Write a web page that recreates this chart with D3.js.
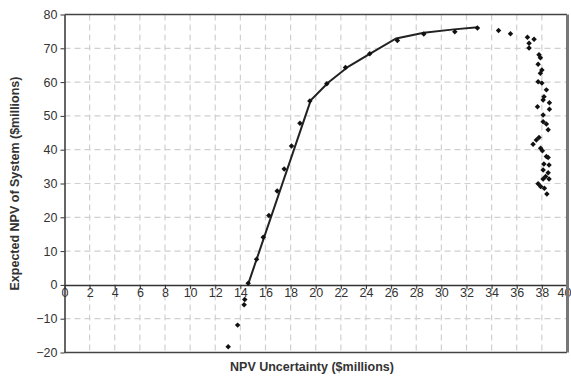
<!DOCTYPE html>
<html>
<head>
<meta charset="utf-8">
<script src="https://cdn.jsdelivr.net/npm/d3@7"></script>
<style>
  body { margin: 0; background: #fff; }
  svg { display: block; font-family: "Liberation Sans", Arial, sans-serif; }
</style>
</head>
<body>
<div id="chart"></div>
<script>
// fitted frontier curve
const curveX = [14.6, 19.6, 21.0, 22.6, 24.4, 26.4, 28.6, 31.0, 32.9];
const curveY = [0.0, 54.6, 59.9, 64.6, 68.6, 72.9, 74.6, 75.6, 76.2];

// designs on the frontier
const frontX = [14.62, 15.29, 15.82, 16.27, 16.93, 17.49, 18.07, 18.74, 19.53, 20.88, 22.37, 24.3, 26.5, 28.6, 31.07, 32.87];
const frontY = [0.5, 7.6, 14.1, 20.5, 27.8, 34.3, 41.1, 47.8, 54.4, 59.5, 64.3, 68.4, 72.3, 74.2, 74.9, 76.0];

// other designs
const otherX = [14.35, 14.3, 13.78, 13.03,
  34.55, 35.5, 36.85, 37.38, 36.98, 36.98, 37.77, 37.88, 37.7, 38.0, 37.88, 37.7, 38.0, 38.36, 38.17, 38.1,
  38.6, 37.65, 38.6, 38.1, 38.1, 38.36, 38.5, 37.77, 37.56, 37.3, 37.9, 38.04, 38.36, 38.5, 38.16, 38.57,
  38.1, 38.5, 38.3, 38.57, 38.1, 37.7, 37.9, 38.2, 38.4];
const otherY = [-4.3, -5.9, -11.9, -18.3,
  75.3, 74.3, 73.3, 72.7, 71.5, 70.1, 68.1, 67.2, 65.3, 63.6, 62.6, 60.1, 59.7, 57.7, 55.7, 54.7,
  53.9, 52.7, 52.0, 50.3, 48.3, 47.6, 45.9, 43.6, 42.9, 41.6, 40.4, 39.7, 38.0, 37.7, 35.8, 35.5,
  34.0, 33.2, 32.1, 31.3, 31.3, 29.9, 29.1, 28.6, 26.9];

const xTicks = d3.range(0, 41, 2);
const yTicks = d3.range(-20, 81, 10);
const xTitle = "NPV Uncertainty ($millions)";
const yTitle = "Expected NPV of System ($millions)";

const width = 571, height = 376;
const x = d3.scaleLinear().domain([0, 40]).range([64.5, 567]);
const y = d3.scaleLinear().domain([-20, 80]).range([352.5, 14.5]);

const svg = d3.select("#chart").append("svg")
  .attr("width", width)
  .attr("height", height);

// grid
const grid = svg.append("g")
  .attr("stroke", "#d0d0d0")
  .attr("stroke-width", 1.2)
  .attr("stroke-dasharray", "6,4");
grid.selectAll(".vg").data(xTicks.filter(d => d > 0 && d < 40)).enter()
  .append("line")
  .attr("x1", d => x(d)).attr("x2", d => x(d))
  .attr("y1", y(80)).attr("y2", y(-20));
grid.selectAll(".hg").data(yTicks.filter(d => d > -20 && d < 80 && d !== 0)).enter()
  .append("line")
  .attr("x1", x(0)).attr("x2", x(40))
  .attr("y1", d => y(d)).attr("y2", d => y(d));

// axes
const xAxis = svg.append("g")
  .attr("transform", `translate(0,${y(0)})`)
  .call(d3.axisBottom(x).tickValues(xTicks).tickSize(4).tickSizeOuter(0));
const yAxis = svg.append("g")
  .attr("transform", `translate(${x(0)},0)`)
  .call(d3.axisLeft(y).tickValues(yTicks).tickSize(4).tickSizeOuter(0));
[xAxis, yAxis].forEach(a => {
  a.select(".domain").attr("stroke", "#333").attr("stroke-width", 1.5);
  a.selectAll(".tick line").attr("stroke", "#333");
  a.selectAll(".tick text").attr("fill", "#333").attr("font-size", 12.5)
    .attr("font-family", "Liberation Sans, Arial, sans-serif");
});
xAxis.selectAll(".tick text").attr("dy", "0.6em").attr("y", 5);
// last label sits against the right border
xAxis.selectAll(".tick text").filter(d => d === 40)
  .attr("text-anchor", "end").attr("x", 4);
yAxis.selectAll(".tick text").attr("x", -7);

// borders
svg.append("line").attr("x1", x(0)).attr("x2", x(40)).attr("y1", y(80)).attr("y2", y(80))
  .attr("stroke", "#444").attr("stroke-width", 1.5);
svg.append("line").attr("x1", x(0)).attr("x2", x(40)).attr("y1", y(-20)).attr("y2", y(-20))
  .attr("stroke", "#444").attr("stroke-width", 1.5);
svg.append("line").attr("x1", x(40) + 0.5).attr("x2", x(40) + 0.5).attr("y1", y(80)).attr("y2", y(-20))
  .attr("stroke", "#777").attr("stroke-width", 3);

// frontier curve
const line = d3.line().x(d => x(d[0])).y(d => y(d[1]));
svg.append("path")
  .datum(d3.zip(curveX, curveY))
  .attr("fill", "none")
  .attr("stroke", "#222")
  .attr("stroke-width", 2)
  .attr("d", line);

// points (small squat diamonds)
const marker = d3.symbol().type(d3.symbolSquare).size(15);
const pts = d3.zip(frontX, frontY).concat(d3.zip(otherX, otherY));
svg.append("g").selectAll("path").data(pts).enter()
  .append("path")
  .attr("d", marker)
  .attr("fill", "#111")
  .attr("transform", d => `translate(${x(d[0])},${y(d[1])}) rotate(45)`);

// titles
svg.append("text")
  .attr("x", 312).attr("y", 371)
  .attr("text-anchor", "middle")
  .attr("font-size", 12.5).attr("font-weight", "bold").attr("fill", "#333")
  .text(xTitle);
svg.append("text")
  .attr("transform", `translate(19,${(y(80) + y(-20)) / 2}) rotate(-90)`)
  .attr("text-anchor", "middle")
  .attr("font-size", 12.5).attr("font-weight", "bold").attr("fill", "#333")
  .text(yTitle);
</script>
</body>
</html>
